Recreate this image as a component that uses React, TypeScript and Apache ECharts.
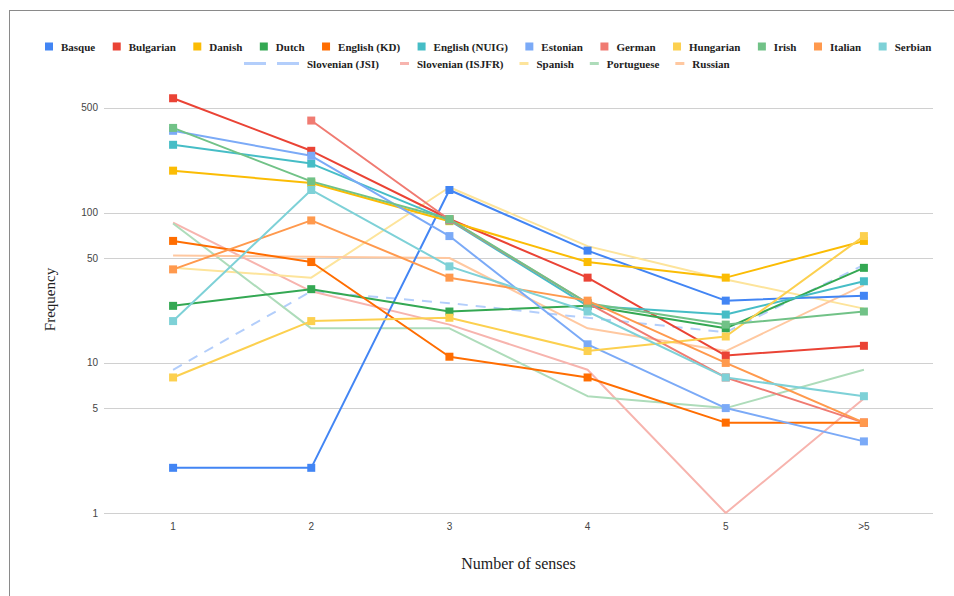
import React, { useEffect, useRef } from "react";
import * as echarts from "echarts";

const categories = ["1", "2", "3", "4", "5", ">5"];
const yTicks = [1, 5, 10, 50, 100, 500];

const basque = [2, 2, 142, 56, 26, 28];
const bulgarian = [580, 259, 91, 37, 11.2, 13];
const danish = [191, 158, 88, 47, 37, 65];
const dutch = [24, 31, 22, 24, 17, 43];
const englishKD = [65, 47, 11, 8, 4, 4];
const englishNUIG = [284, 213, 89, 24, 21, 35];
const estonian = [352, 240, 70, 13.3, 5, 3];
const german = [null, 412, 90, 25, 8, 4];
const hungarian = [8, 19, 20, 12, 15, 70];
const irish = [368, 162, 91, 25, 18, 22];
const italian = [42, 89, 37, 26, 10, 4];
const serbian = [19, 142, 44, 22, 8, 6];
const slovenianJSI = [9, 30, 25, 20, 16, 45];
const slovenianISJFR = [86, 30, 18, 9, 1, 5.8];
const spanish = [43, 37, 148, 60, 36, 23];
const portuguese = [85, 17, 17, 6, 5, 9];
const russian = [52, 51, 50, 17, 12, 33];

const markerSeries = [
  { name: "Basque", data: basque, color: "#4285F4" },
  { name: "Bulgarian", data: bulgarian, color: "#EA4335" },
  { name: "Danish", data: danish, color: "#FBBC04" },
  { name: "Dutch", data: dutch, color: "#34A853" },
  { name: "English (KD)", data: englishKD, color: "#FF6D01" },
  { name: "English (NUIG)", data: englishNUIG, color: "#46BDC6" },
  { name: "Estonian", data: estonian, color: "#7BAAF7" },
  { name: "German", data: german, color: "#F07B72" },
  { name: "Hungarian", data: hungarian, color: "#FCD04F" },
  { name: "Irish", data: irish, color: "#71C287" },
  { name: "Italian", data: italian, color: "#FF994D" },
  { name: "Serbian", data: serbian, color: "#7ED1D7" },
];

const plainSeries = [
  { name: "Slovenian (JSI)", data: slovenianJSI, color: "#B3CEFB", dashed: true },
  { name: "Slovenian (ISJFR)", data: slovenianISJFR, color: "#F7B4AE" },
  { name: "Spanish", data: spanish, color: "#FDE49B" },
  { name: "Portuguese", data: portuguese, color: "#AEDCBA" },
  { name: "Russian", data: russian, color: "#FFC8A0" },
];

const legendText = {
  fontFamily: "'Liberation Serif', 'DejaVu Serif', serif",
  fontWeight: "bold" as const,
  fontSize: 11,
  color: "#222222",
};

export default function App() {
  const ref = useRef<HTMLDivElement>(null);

  useEffect(() => {
    if (!ref.current) return;
    const chart = echarts.init(ref.current, null, { renderer: "svg" });

    const series: any[] = [];
    for (const s of plainSeries) {
      series.push({
        name: s.name,
        type: "line",
        data: s.data,
        symbol: "none",
        color: s.color,
        lineStyle: { color: s.color, width: 2, type: s.dashed ? [10, 8] : "solid" },
        connectNulls: false,
      });
    }
    for (const s of markerSeries) {
      series.push({
        name: s.name,
        type: "line",
        data: s.data,
        symbol: "rect",
        symbolSize: 8,
        showSymbol: true,
        color: s.color,
        itemStyle: { color: s.color, borderWidth: 0 },
        lineStyle: { color: s.color, width: 2 },
        connectNulls: false,
      });
    }

    const squareIcon = "path://M0,0h8v8h-8zM11,8L10.99,8Z";
    const lineIcon = "path://M0,0L0.01,0ZM0,2.5h9v3h-9zM12,8L11.99,8Z";
    const dashIcon = "path://M0,0L0.01,0ZM0,2.5h22v3h-22zM33,2.5h22v3h-22zM58,8L57.99,8Z";

    chart.setOption({
      animation: false,
      backgroundColor: "#ffffff",
      grid: { left: 104, right: 21, top: 86, bottom: 83 },
      legend: [
        {
          data: markerSeries.map((s) => ({ name: s.name, icon: squareIcon })),
          left: 45,
          top: 41,
          padding: 0,
          itemWidth: 11,
          itemHeight: 8,
          itemGap: 17.5,
          itemStyle: { borderWidth: 0 },
          textStyle: legendText,
          selectedMode: false,
        },
        {
          data: [{ name: plainSeries[0].name, icon: dashIcon }],
          left: 244,
          top: 58,
          padding: 0,
          itemWidth: 58,
          itemHeight: 8,
          itemStyle: { borderWidth: 0 },
          textStyle: legendText,
          selectedMode: false,
        },
        {
          data: plainSeries.slice(1).map((s) => ({ name: s.name, icon: lineIcon })),
          left: 400,
          top: 58,
          padding: 0,
          itemWidth: 12,
          itemHeight: 8,
          itemGap: 16,
          itemStyle: { borderWidth: 0 },
          textStyle: legendText,
          selectedMode: false,
        },
      ],
      xAxis: {
        type: "category",
        data: categories,
        boundaryGap: true,
        name: "Number of senses",
        nameLocation: "middle",
        nameGap: 42,
        nameTextStyle: {
          fontFamily: "'Liberation Serif', serif",
          fontSize: 16,
          color: "#222222",
        },
        axisLine: { show: false },
        axisTick: { show: false },
        axisLabel: {
          fontFamily: "'Liberation Sans', Arial, sans-serif",
          fontSize: 10,
          color: "#444444",
          margin: 8,
        },
        splitLine: { show: false },
      },
      yAxis: {
        type: "log",
        logBase: 10,
        min: 1,
        max: 700,
        name: "Frequency",
        nameLocation: "middle",
        nameGap: 47,
        nameTextStyle: {
          fontFamily: "'Liberation Serif', serif",
          fontSize: 15,
          color: "#222222",
        },
        axisLine: { show: false },
        axisTick: { show: false, customValues: yTicks },
        axisLabel: {
          customValues: yTicks,
          fontFamily: "'Liberation Sans', Arial, sans-serif",
          fontSize: 10,
          color: "#444444",
          margin: 6,
        },
        splitLine: { show: true, lineStyle: { color: "#d0d0d0", width: 1 } },
      },
      graphic: [
        {
          type: "line",
          shape: { x1: 9, y1: 10.5, x2: 954, y2: 10.5 },
          style: { stroke: "#8a8a8a", lineWidth: 1 },
        },
        {
          type: "line",
          shape: { x1: 9.5, y1: 10, x2: 9.5, y2: 596 },
          style: { stroke: "#8a8a8a", lineWidth: 1 },
        },
      ],
      series,
    });

    return () => chart.dispose();
  }, []);

  return (
    <div
      ref={ref}
      style={{ position: "absolute", left: 0, top: 0, width: 954, height: 596 }}
    />
  );
}
